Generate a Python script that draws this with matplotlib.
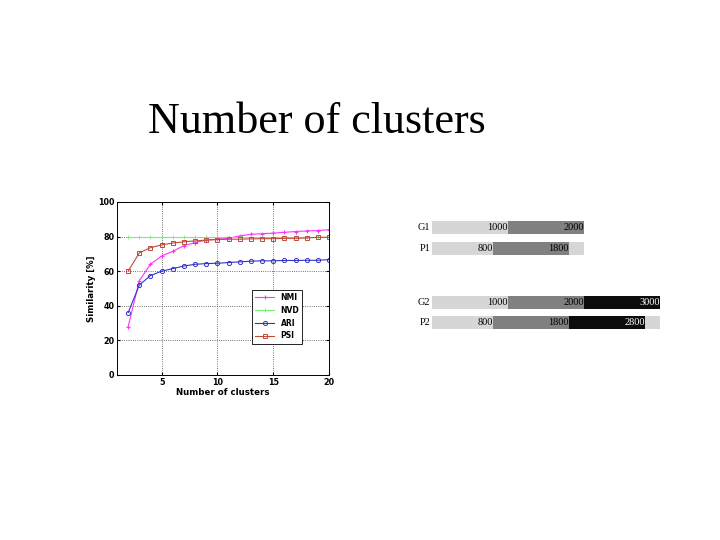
import numpy as np
import matplotlib
matplotlib.use("Agg")
import matplotlib.pyplot as plt

# ---------------------------------------------------------------- data
n_clusters = np.arange(2, 21)
nmi = [28, 54.5, 64, 68.8, 71.5, 74.8, 76.5, 78, 78.5, 79, 80.4, 81.3, 81.7, 82, 82.5, 82.9, 83.3, 83.5, 84]
nvd = [80] * len(n_clusters)
ari = [36, 52, 57.5, 60, 61.5, 63, 64, 64.4, 64.6, 65, 65.4, 65.8, 66, 66, 66.2, 66.2, 66.3, 66.3, 66.7]
psi = [60, 70.6, 73.6, 75.2, 76.3, 77, 77.5, 78, 78.3, 78.5, 78.5, 78.7, 78.8, 78.8, 79, 79, 79.2, 79.6, 79.6]

row_names = ["G1", "P1", "G2", "P2"]
row_bounds = [[1000, 2000], [800, 1800], [1000, 2000, 3000], [800, 1800, 2800]]
row_total = [2000, 2000, 3000, 3000]

# ---------------------------------------------------------------- figure
fig = plt.figure(figsize=(7.2, 5.4), dpi=100)
W, H = 720, 540

fig.text(148 / W, 1 - 133 / H, "Number of clusters", family="Liberation Serif",
         fontsize=31.8, ha="left", va="baseline")

# ---- line chart (left)
ax = fig.add_axes([117 / W, 1 - 375 / H, 212 / W, 173 / H])
ax.plot(n_clusters, nmi, color="#ff33ff", lw=0.8, marker="+", ms=3.5, mew=0.8, label="NMI")
ax.plot(n_clusters, nvd, color="#77ee77", lw=0.8, marker="+", ms=3.5, mew=0.6, label="NVD")
ax.plot(n_clusters, ari, color="#3333cc", lw=0.8, marker="o", ms=3, mfc="none", mew=0.7, label="ARI")
ax.plot(n_clusters, psi, color="#c04a3a", lw=0.8, marker="s", ms=3, mfc="none", mew=0.7, label="PSI")
ax.set_xlim(1, 20)
ax.set_ylim(0, 100)
ax.set_xticks([5, 10, 15, 20])
ax.set_yticks(range(0, 101, 20))
ax.grid(True, color="#444444", ls=":", lw=0.6)
ax.tick_params(labelsize=5.8, length=2, direction="in", pad=2, top=True, right=True)
for lab in ax.get_xticklabels() + ax.get_yticklabels():
    lab.set_fontweight("bold")
for s in ax.spines.values():
    s.set_linewidth(0.7)
ax.set_xlabel("Number of clusters", fontsize=6.2, fontweight="bold", labelpad=1)
ax.set_ylabel("Similarity [%]", fontsize=6.2, fontweight="bold", labelpad=1)
leg = ax.legend(loc="lower left", bbox_to_anchor=(0.62, 0.16), prop={"weight": "bold", "size": 5.5},
                fancybox=False, edgecolor="black", framealpha=1, handlelength=2.5, borderpad=0.4,
                labelspacing=0.5)
leg.get_frame().set_linewidth(0.6)

# ---- stacked bars (right)
bx = fig.add_axes([432 / W, 1 - 335 / H, 228 / W, 120 / H])
ypos = [0, 1, 3.55, 4.5]
seg_colors = ["#d6d6d6", "#808080", "#0c0c0c"]
for y, name, bounds, total in zip(ypos, row_names, row_bounds, row_total):
    start = 0
    for i, b in enumerate(bounds):
        bx.barh(y, b - start, left=start, height=0.64, color=seg_colors[i], lw=0)
        txt_col = "white" if i == 2 else "black"
        bx.text(b, y, str(b), ha="right", va="center", fontsize=7.5,
                family="Liberation Serif", color=txt_col)
        start = b
    if start < total:
        bx.barh(y, total - start, left=start, height=0.64, color=seg_colors[0], lw=0)
    bx.text(-25, y, name, ha="right", va="center", fontsize=7.5, family="Liberation Serif")
bx.set_xlim(0, 3000)
bx.set_ylim(5.1, -0.6)
bx.axis("off")

fig.savefig("out.png", dpi=100)
